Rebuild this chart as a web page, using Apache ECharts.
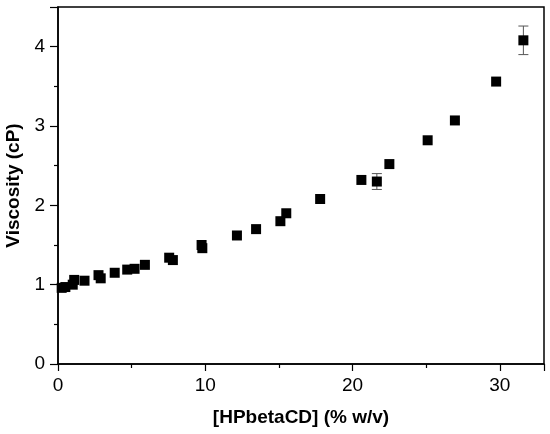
<!DOCTYPE html>
<html>
<head>
<meta charset="utf-8">
<style>
  html, body { margin: 0; padding: 0; background: #fff; }
  #main { width: 550px; height: 434px; }
</style>
</head>
<body>
<div id="main"></div>
<script src="https://cdn.jsdelivr.net/npm/echarts@6/dist/echarts.min.js"></script>
<script>
// HPbetaCD concentration (% w/v)
var conc = [0.25, 0.5, 1.0, 1.1, 1.8, 2.75, 2.9, 3.85, 4.7, 5.2, 5.9, 7.55, 7.8, 9.75, 9.8,
            12.15, 13.45, 15.1, 15.5, 17.8, 20.6, 21.65, 22.5, 25.1, 26.95, 29.75, 31.6];
// viscosity (cP)
var visc = [0.96, 0.97, 1.0, 1.06, 1.05, 1.12, 1.08, 1.15, 1.19, 1.2, 1.25, 1.34, 1.31, 1.5, 1.46,
            1.62, 1.70, 1.80, 1.90, 2.08, 2.32, 2.30, 2.52, 2.82, 3.07, 3.56, 4.08];
// error (sd), only visible ones outside the marker
var err  = [0, 0, 0, 0, 0, 0, 0, 0, 0, 0, 0, 0, 0, 0, 0,
            0, 0, 0, 0, 0, 0, 0.1, 0, 0, 0, 0, 0.18];
var xTicks = [0, 10, 20, 30];
var yTicks = [0, 1, 2, 3, 4];

var font = "'Liberation Sans', Arial, sans-serif";
var pts = conc.map(function (x, i) { return [x, visc[i]]; });
var bars = conc.map(function (x, i) { return [x, visc[i] - err[i], visc[i] + err[i]]; })
               .filter(function (d) { return d[2] > d[1]; });

var chart = echarts.init(document.getElementById('main'));
chart.setOption({
    animation: false,
    backgroundColor: '#fff',
    grid: {
        left: 58, right: 6, top: 7, bottom: 70,
        outerBoundsMode: 'none',
        containLabel: false,
        show: true, borderColor: '#000', borderWidth: 1.5
    },
    xAxis: {
        type: 'value',
        min: 0, max: 33, interval: 10,
        name: '[HPbetaCD] (% w/v)',
        nameLocation: 'middle',
        nameGap: 44,
        nameTextStyle: { fontFamily: font, fontSize: 19, fontWeight: 'bold', color: '#000' },
        axisLine: { show: true, onZero: false, lineStyle: { color: '#000', width: 1.5 } },
        axisTick: { show: true, length: 7, lineStyle: { color: '#000', width: 1.2 } },
        minorTick: { show: true, splitNumber: 2, length: 4, lineStyle: { color: '#000', width: 1.2 } },
        splitLine: { show: false },
        axisLabel: {
            fontFamily: font, fontSize: 19, color: '#000', margin: 12,
            formatter: function (v) { return xTicks.indexOf(v) >= 0 ? String(v) : ''; }
        }
    },
    yAxis: {
        type: 'value',
        min: 0, max: 4.5, interval: 1,
        name: 'Viscosity (cP)',
        nameLocation: 'middle',
        nameGap: 29,
        nameTextStyle: { fontFamily: font, fontSize: 19, fontWeight: 'bold', color: '#000' },
        axisLine: { show: true, onZero: false, lineStyle: { color: '#000', width: 1.5 } },
        axisTick: { show: true, length: 8, lineStyle: { color: '#000', width: 1.2 } },
        minorTick: { show: true, splitNumber: 2, length: 4, lineStyle: { color: '#000', width: 1.2 } },
        splitLine: { show: false },
        axisLabel: {
            fontFamily: font, fontSize: 19, color: '#000', margin: 13,
            formatter: function (v) { return yTicks.indexOf(v) >= 0 ? String(v) : ''; }
        }
    },
    series: [
        {
            type: 'custom',
            z: 1,
            data: bars,
            renderItem: function (params, api) {
                var x = api.value(0);
                var lo = api.coord([x, api.value(1)]);
                var hi = api.coord([x, api.value(2)]);
                var w = 5;
                var st = { stroke: '#555', lineWidth: 1 };
                return {
                    type: 'group',
                    children: [
                        { type: 'line', shape: { x1: lo[0], y1: lo[1], x2: hi[0], y2: hi[1] }, style: st },
                        { type: 'line', shape: { x1: lo[0] - w, y1: lo[1], x2: lo[0] + w, y2: lo[1] }, style: st },
                        { type: 'line', shape: { x1: hi[0] - w, y1: hi[1], x2: hi[0] + w, y2: hi[1] }, style: st }
                    ]
                };
            }
        },
        {
            type: 'scatter',
            z: 2,
            symbol: 'rect',
            symbolSize: 10,
            itemStyle: { color: '#000', opacity: 1 },
            data: pts
        }
    ]
});
</script>
</body>
</html>
